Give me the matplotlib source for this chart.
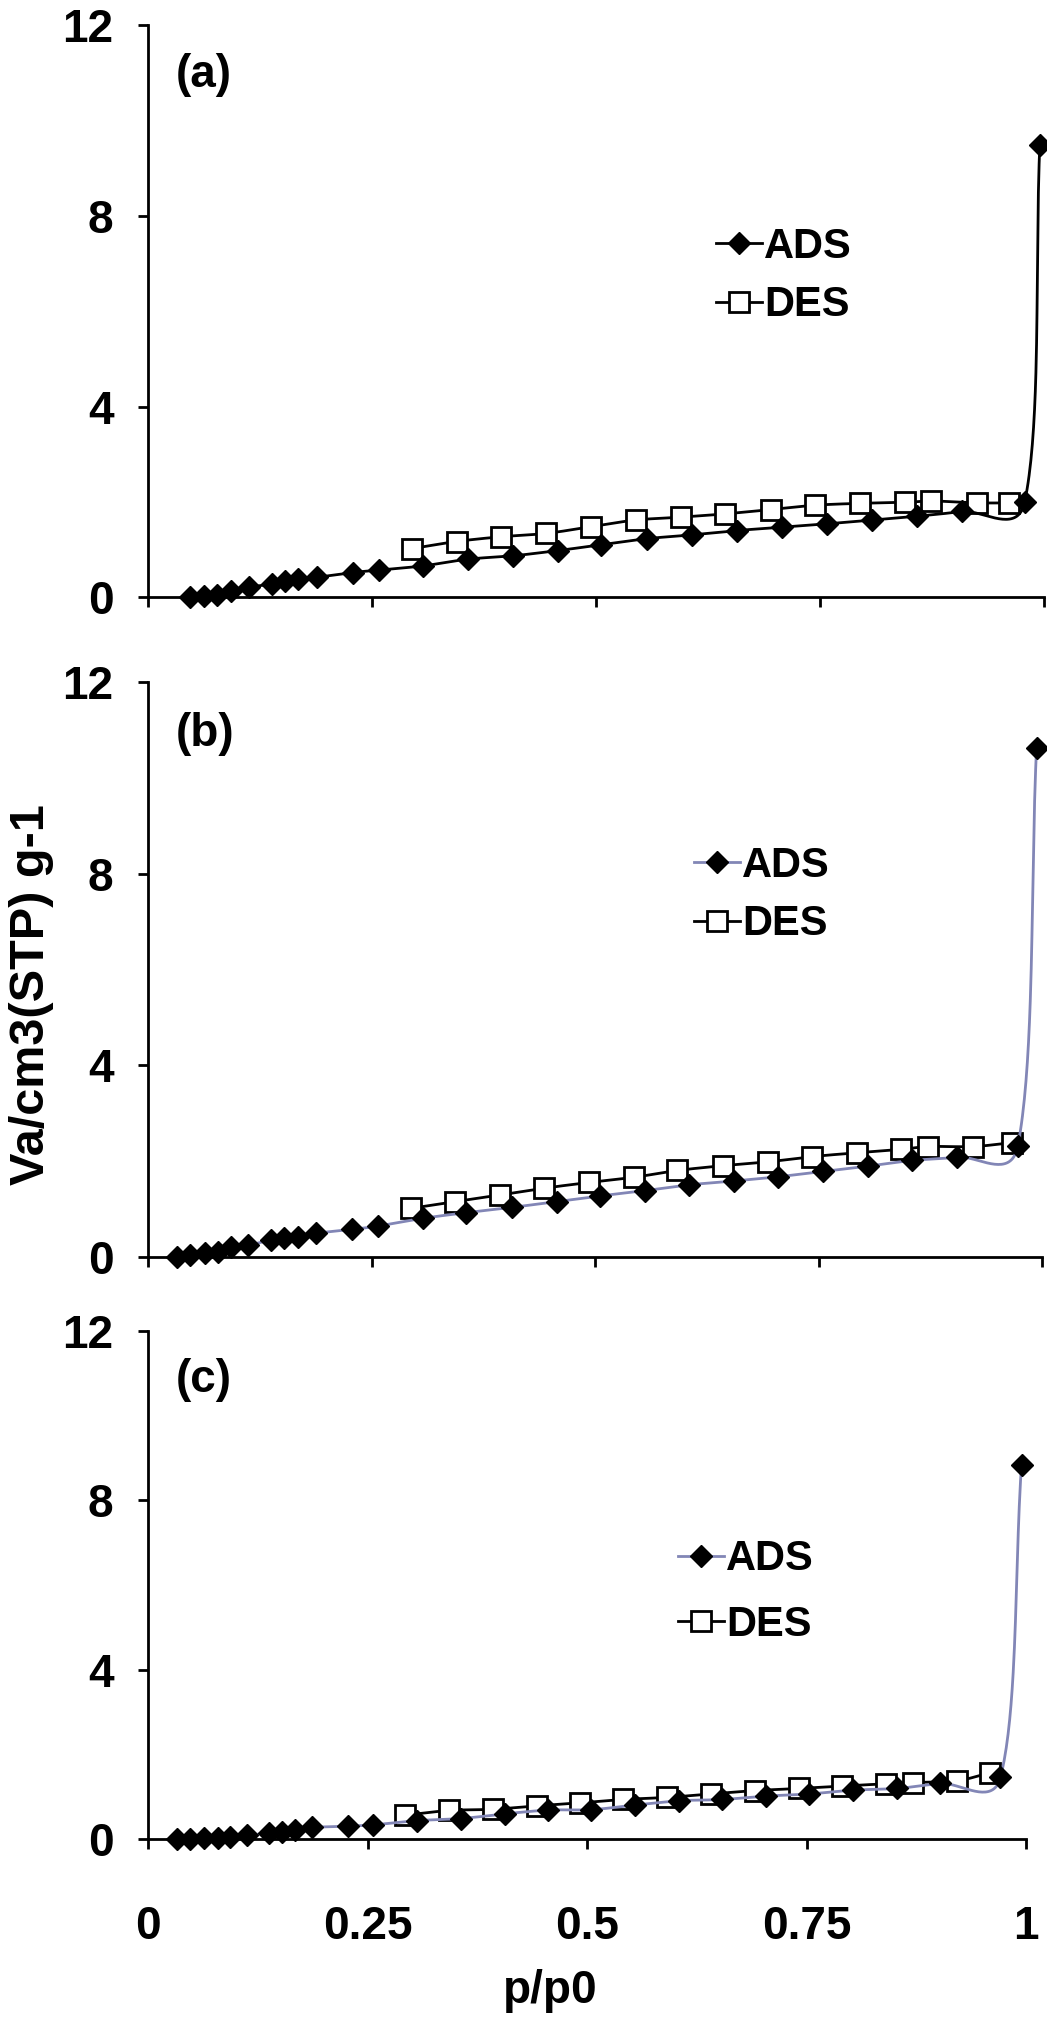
import numpy as np
import matplotlib
matplotlib.use("Agg")
import matplotlib.pyplot as plt
from matplotlib.lines import Line2D

plt.rcParams['font.family'] = ['Liberation Sans', 'DejaVu Sans']
plt.rcParams['font.weight'] = 'bold'

# ---------------- data ----------------
# panel (a)
ads_a_x = [0.047, 0.062, 0.077, 0.092, 0.112, 0.138, 0.153, 0.167, 0.188, 0.228, 0.257,
           0.307, 0.357, 0.407, 0.457, 0.505, 0.557, 0.607, 0.657, 0.707, 0.757, 0.808,
           0.858, 0.908, 0.978, 0.995]
ads_a_y = [0.00, 0.02, 0.05, 0.14, 0.21, 0.28, 0.34, 0.39, 0.42, 0.52, 0.57,
           0.66, 0.80, 0.87, 0.98, 1.10, 1.23, 1.31, 1.40, 1.47, 1.54, 1.62,
           1.70, 1.80, 1.99, 9.48]
des_a_x = [0.294, 0.344, 0.394, 0.444, 0.494, 0.544, 0.594, 0.644, 0.695, 0.744, 0.794,
           0.844, 0.873, 0.925, 0.961]
des_a_y = [1.02, 1.17, 1.27, 1.34, 1.48, 1.62, 1.68, 1.75, 1.84, 1.93, 1.97,
           1.99, 2.02, 1.98, 1.98]

# panel (b)
ads_b_x = [0.032, 0.047, 0.063, 0.078, 0.092, 0.112, 0.137, 0.152, 0.168, 0.188, 0.228,
           0.257, 0.307, 0.356, 0.407, 0.457, 0.506, 0.556, 0.605, 0.655, 0.705, 0.755,
           0.805, 0.855, 0.905, 0.973, 0.994]
ads_b_y = [0.00, 0.03, 0.07, 0.10, 0.20, 0.24, 0.35, 0.40, 0.42, 0.49, 0.57,
           0.64, 0.80, 0.92, 1.03, 1.15, 1.27, 1.38, 1.50, 1.58, 1.67, 1.78,
           1.89, 2.01, 2.08, 2.31, 10.62]
des_b_x = [0.294, 0.343, 0.394, 0.443, 0.493, 0.544, 0.592, 0.643, 0.693, 0.743, 0.793,
           0.842, 0.873, 0.923, 0.966]
des_b_y = [1.01, 1.15, 1.29, 1.43, 1.55, 1.66, 1.80, 1.90, 1.98, 2.09, 2.17,
           2.24, 2.30, 2.30, 2.38]

# panel (c)
ads_c_x = [0.033, 0.048, 0.063, 0.079, 0.093, 0.112, 0.138, 0.152, 0.167, 0.187, 0.227,
           0.256, 0.306, 0.356, 0.406, 0.456, 0.505, 0.555, 0.605, 0.654, 0.704, 0.753,
           0.803, 0.853, 0.902, 0.971, 0.995]
ads_c_y = [0.00, 0.00, 0.02, 0.03, 0.06, 0.10, 0.14, 0.17, 0.22, 0.28, 0.31,
           0.34, 0.44, 0.49, 0.60, 0.69, 0.70, 0.81, 0.91, 0.94, 1.02, 1.07,
           1.16, 1.20, 1.32, 1.46, 8.84]
des_c_x = [0.293, 0.343, 0.393, 0.443, 0.492, 0.541, 0.591, 0.641, 0.691, 0.741, 0.791,
           0.841, 0.871, 0.921, 0.959]
des_c_y = [0.57, 0.68, 0.71, 0.79, 0.86, 0.94, 0.99, 1.07, 1.15, 1.20, 1.26,
           1.31, 1.34, 1.38, 1.57]

panel_labels = ['(a)', '(b)', '(c)']
series_names = ['ADS', 'DES']
x_ticks = [0, 0.25, 0.5, 0.75, 1]
x_tick_labels = ['0', '0.25', '0.5', '0.75', '1']
y_ticks = [0, 4, 8, 12]
y_tick_labels = ['0', '4', '8', '12']
x_label = 'p/p0'
y_label = 'Va/cm3(STP) g-1'

# ---------------- layout ----------------
W, H = 1047, 2020
fig = plt.figure(figsize=(W / 100, H / 100), dpi=100)

# (left px, right px, top px, bottom px)
boxes = [(148.3, 1044.3, 25.0, 597.3),
         (148.3, 1041.9, 682.0, 1256.7),
         (148.3, 1025.9, 1331.0, 1839.3)]
ads_colors = ['black', '#8286b6', '#8286b6']
# legend: (handle left px, center y px, labelspacing)
legend_pos = [(716, 276.0, 0.45), (694, 895.0, 0.45), (678, 1592.0, 0.62)]
label_pos = [(176, 75), (176, 734), (176, 1380)]

data = [(ads_a_x, ads_a_y, des_a_x, des_a_y),
        (ads_b_x, ads_b_y, des_b_x, des_b_y),
        (ads_c_x, ads_c_y, des_c_x, des_c_y)]

FS = 33
LFS = 30
LW = 2.0
MS_D = 11.5
MS_S = 14.5


def smooth(ax, x, y, n=40):
    """Excel-like smoothed line (Bezier through points, computed in display space)."""
    pts = ax.transData.transform(np.column_stack([x, y]))
    N = len(pts)
    out = [pts[0]]
    t = np.linspace(0, 1, n)[1:][:, None]
    for i in range(N - 1):
        p0 = pts[i - 1] if i > 0 else pts[i]
        p1 = pts[i]
        p2 = pts[i + 1]
        p3 = pts[i + 2] if i + 2 < N else pts[i + 1]
        d01 = np.linalg.norm(p1 - p0)
        d12 = np.linalg.norm(p2 - p1)
        d23 = np.linalg.norm(p3 - p2)
        f1 = np.sqrt(2 * d12 / (d01 + d12)) / 6 if d01 > 0 else 1 / 3
        f2 = np.sqrt(2 * d12 / (d12 + d23)) / 6 if d23 > 0 else 1 / 3
        f1 = min(f1, 1 / 3)
        f2 = min(f2, 1 / 3)
        b1 = p1 + (p2 - p0) * f1 if i > 0 else p1 + (p2 - p1) / 3
        b2 = p2 - (p3 - p1) * f2 if i + 2 < N else p2 - (p2 - p1) / 3
        seg = ((1 - t) ** 3) * p1 + 3 * ((1 - t) ** 2) * t * b1 + 3 * (1 - t) * t ** 2 * b2 + t ** 3 * p2
        out.extend(seg)
    out = np.array(out)
    inv = ax.transData.inverted().transform(out)
    return inv[:, 0], inv[:, 1]


for k, ((l, r, tp, bt), (ax_, ay_, dx_, dy_)) in enumerate(zip(boxes, data)):
    ax = fig.add_axes([l / W, 1 - bt / H, (r - l) / W, (bt - tp) / H])
    ax.set_xlim(0, 1)
    ax.set_ylim(0, 12)
    for s in ['top', 'right']:
        ax.spines[s].set_visible(False)
    for s in ['left', 'bottom']:
        ax.spines[s].set_linewidth(2.0)
        ax.spines[s].set_color('black')
    ax.set_xticks(x_ticks)
    ax.set_yticks(y_ticks)
    ax.set_yticklabels(y_tick_labels, fontsize=FS, fontweight='bold')
    if k == 2:
        ax.set_xticklabels(x_tick_labels, fontsize=FS, fontweight='bold')
    else:
        ax.set_xticklabels([])
    ax.tick_params(axis='both', direction='out', length=7, width=2.0, colors='black')
    ax.tick_params(axis='y', pad=18)
    ax.tick_params(axis='x', pad=40)

    # DES first, ADS on top
    sx, sy = smooth(ax, dx_, dy_)
    ax.plot(sx, sy, color='black', lw=LW, zorder=3, clip_on=False)
    ax.plot(dx_, dy_, ls='none', marker='s', ms=MS_S, mfc='white', mec='black', mew=2.0,
            zorder=4, clip_on=False)
    sx, sy = smooth(ax, ax_, ay_)
    ax.plot(sx, sy, color=ads_colors[k], lw=LW, zorder=5, clip_on=False)
    ax.plot(ax_, ay_, ls='none', marker='D', ms=MS_D, mfc='black', mec='black',
            zorder=6, clip_on=False)

    h_ads = Line2D([], [], color=ads_colors[k], lw=LW, marker='D', ms=MS_D,
                   mfc='black', mec='black')
    h_des = Line2D([], [], color='black', lw=LW, marker='s', ms=MS_S,
                   mfc='white', mec='black', mew=2.0)
    lx, ly, lsp = legend_pos[k]
    leg = ax.legend([h_ads, h_des], series_names, loc='center left',
                    bbox_to_anchor=(lx / W, 1 - ly / H), bbox_transform=fig.transFigure,
                    frameon=False, borderpad=0, borderaxespad=0, handlelength=1.1,
                    handletextpad=0.05, labelspacing=lsp,
                    prop={'family': ['Liberation Sans', 'DejaVu Sans'], 'weight': 'bold', 'size': LFS})

    px, py = label_pos[k]
    fig.text(px / W, 1 - py / H, panel_labels[k], fontsize=FS, fontweight='bold',
             ha='left', va='center')

fig.text(32 / W, 1 - 995 / H, y_label, rotation=90, fontsize=35, fontweight='bold',
         ha='center', va='center')
fig.text(550 / W, 1 - 1991 / H, x_label, fontsize=FS, fontweight='bold',
         ha='center', va='center')

fig.savefig('out.png', dpi=100)
